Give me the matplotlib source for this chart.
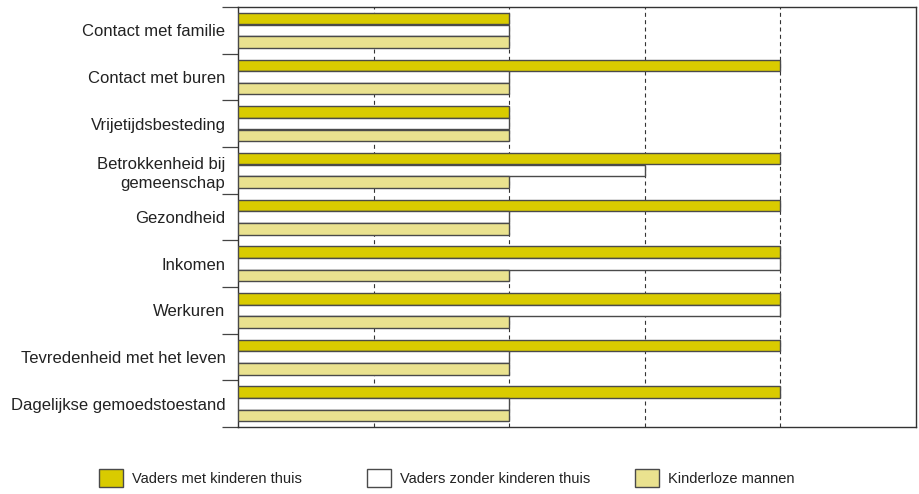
import matplotlib
matplotlib.use("Agg")
import matplotlib.pyplot as plt
import numpy as np
from matplotlib.patches import Patch

categories = [
    "Contact met familie",
    "Contact met buren",
    "Vrijetijdsbesteding",
    "Betrokkenheid bij\ngemeenschap",
    "Gezondheid",
    "Inkomen",
    "Werkuren",
    "Tevredenheid met het leven",
    "Dagelijkse gemoedstoestand",
]
series_names = ["Vaders met kinderen thuis", "Vaders zonder kinderen thuis", "Kinderloze mannen"]
vaders_met = [2, 4, 2, 4, 4, 4, 4, 4, 4]
vaders_zonder = [2, 2, 2, 3, 2, 4, 4, 2, 2]
kinderloos = [2, 2, 2, 2, 2, 2, 2, 2, 2]
x_ticks = [0, 1, 2, 3, 4, 5]

colors = ["#D9CB00", "#FFFFFF", "#EAE28F"]
edge = "#4a4a4a"

plt.rcParams['font.family'] = ['Liberation Sans', 'DejaVu Sans']

fig = plt.figure(figsize=(9.2, 4.94), dpi=100)
ax = fig.add_axes([238/920, 1-427/494, (916-238)/920, (427-7)/494])

n = len(categories)
y = np.arange(n)
h = 0.25
for i, (vals, c) in enumerate(zip([vaders_met, vaders_zonder, kinderloos], colors)):
    ax.barh(y + (i - 1) * h, vals, height=h, color=c, edgecolor=edge, linewidth=1.0, zorder=3,
            label=series_names[i])

ax.set_xlim(0, 5)
ax.set_ylim(n - 0.5, -0.5)
ax.set_xticks(x_ticks)
ax.set_xticklabels([])
ax.tick_params(axis='x', length=0)
for xv in x_ticks[1:-1]:
    ax.axvline(xv, color="#333333", linewidth=0.8, linestyle=(0, (3.6, 3.0)), zorder=1)

ax.set_yticks(y)
ax.set_yticklabels(categories, fontsize=12, color="#222222", linespacing=1.35)
ax.tick_params(axis='y', which='major', length=0, pad=9)
ax.set_yticks(np.arange(n + 1) - 0.5, minor=True)
ax.tick_params(axis='y', which='minor', length=11.5, width=0.9, color="#444444")

for s in ax.spines.values():
    s.set_color("#333333")
    s.set_linewidth(1.0)

handles = [Patch(facecolor=c, edgecolor=edge, linewidth=1.0) for c in colors]
xs = [99, 367, 635]
for hdl, name, xp in zip(handles, series_names, xs):
    fig.legend([hdl], [name], loc='center left', bbox_to_anchor=(xp/920, 1-478/494),
               frameon=False, fontsize=10.5, handlelength=1.65, handleheight=1.6,
               handletextpad=0.6, borderpad=0, borderaxespad=0, labelcolor="#222222")

fig.savefig("out.png", dpi=100)
